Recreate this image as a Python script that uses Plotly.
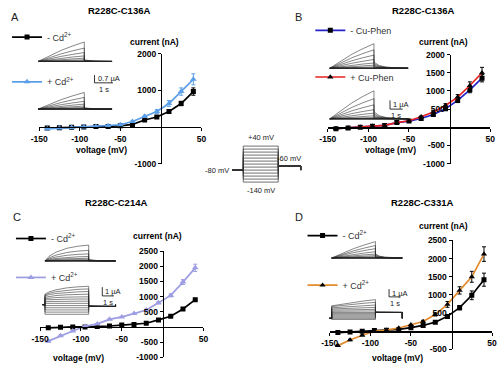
import plotly.graph_objects as go

W, H = 500, 370
FONT = "Liberation Sans"

# ---------------- data (I-V curves, nA) ----------------
V = [-140, -125, -110, -95, -80, -65, -50, -35, -20, -5, 10, 25, 40]

A_ctrl = [-30, -20, -10, 0, 10, 15, 30, 70, 190, 270, 420, 640, 965]
A_ctrl_err = [0, 0, 0, 0, 0, 0, 0, 0, 0, 20, 40, 60, 100]
A_cd = [-50, -30, -15, 0, 15, 30, 60, 150, 290, 420, 640, 965, 1300]
A_cd_err = [0, 0, 0, 0, 0, 0, 0, 20, 30, 50, 80, 100, 150]

B_ctrl = [-40, -20, 0, 30, 50, 130, 170, 240, 350, 510, 740, 1030, 1350]
B_ctrl_err = [0, 0, 0, 0, 0, 0, 0, 20, 30, 40, 60, 80, 100]
B_cu = [-40, -20, 0, 30, 50, 130, 180, 290, 420, 600, 830, 1150, 1500]
B_cu_err = [0, 0, 0, 0, 0, 0, 0, 20, 30, 50, 70, 100, 150]

C_ctrl = [-30, -10, 0, 0, 10, 30, 60, 80, 120, 230, 350, 590, 900]
C_ctrl_err = [0, 0, 0, 0, 0, 0, 0, 0, 0, 20, 20, 30, 40]
C_cd = [-470, -290, -135, 20, 100, 250, 330, 440, 560, 800, 1040, 1480, 1950]
C_cd_err = [30, 20, 20, 0, 0, 0, 0, 0, 20, 40, 50, 80, 120]

D_ctrl = [-35, -20, 0, 20, 30, 50, 100, 160, 250, 410, 650, 990, 1420]
D_ctrl_err = [0, 0, 0, 0, 0, 0, 0, 20, 30, 40, 60, 120, 180]
D_cd = [-395, -240, -110, 0, 30, 90, 180, 270, 460, 740, 1125, 1500, 2125]
D_cd_err = [20, 20, 0, 0, 0, 0, 0, 30, 40, 80, 100, 150, 200]

# ---------------- inset current traces (uA at end of pulse) ----------------
A1_amp = [0, 0, 0, 0, 0, 0.02, 0.06, 0.15, 0.3, 0.5, 0.8, 1.2, 1.75]
A2_amp = [0, 0, 0, 0, 0, 0.02, 0.06, 0.15, 0.28, 0.45, 0.7, 1.05, 1.5]
B1_amp = [0, 0, 0, 0, 0, 0.05, 0.15, 0.35, 0.6, 1.0, 1.5, 2.1, 2.8]
B2_amp = [0, 0, 0, 0, 0, 0.05, 0.15, 0.35, 0.65, 1.05, 1.6, 2.3, 3.2]
C1_amp = [0, 0, 0, 0, 0, 0.03, 0.08, 0.15, 0.3, 0.5, 0.8, 1.2, 1.8]
C2_amp = [0, 0, 0, 0, 0, 0, 0.05, 0.1, 0.2, 0.35, 0.5, 0.7, 0.9]
C2_inst = [-1.1, -0.85, -0.6, -0.35, -0.1, 0.15, 0.35, 0.55, 0.7, 0.85, 1.0, 1.1, 1.2]
D1_amp = [0, 0, 0, 0, 0, 0.05, 0.15, 0.3, 0.5, 0.8, 1.2, 1.6, 2.1]
D2_amp = [0, 0, 0, 0, 0, 0, 0.02, 0.05, 0.1, 0.2, 0.35, 0.55, 0.8]
D2_inst = [-0.15, 0, 0.15, 0.3, 0.45, 0.6, 0.75, 0.9, 1.05, 1.2, 1.35, 1.5, 1.6]
ZERO13 = [0, 0, 0, 0, 0, 0, 0, 0, 0, 0, 0, 0, 0]

SHAPE_T = [0, 0.1, 0.25, 0.5, 0.75, 1.0]
SHAPE_LIN = [0, 0.12, 0.3, 0.57, 0.8, 1.0]
SHAPE_SAT = [0, 0.3, 0.55, 0.8, 0.93, 1.0]
TAIL_T = [0, 0.15, 0.35, 0.6, 1.0]
TAIL_F = [1, 0.45, 0.2, 0.07, 0]

# protocol
HOLD, TAILV = -80, -60

# ---------------- helpers ----------------
fig = go.Figure()
layout = {}
annotations = []
count = [0]


def px2x(px):
    return px / W


def px2y(py):
    return 1 - py / H


def new_axes(xd, yd, xrange, yrange):
    count[0] += 1
    n = count[0]
    xn = 'xaxis' if n == 1 else f'xaxis{n}'
    yn = 'yaxis' if n == 1 else f'yaxis{n}'
    xr = 'x' if n == 1 else f'x{n}'
    yr = 'y' if n == 1 else f'y{n}'
    layout[xn] = dict(domain=[px2x(xd[0]), px2x(xd[1])], range=xrange,
                      visible=False, anchor=yr, fixedrange=True)
    layout[yn] = dict(domain=[px2y(yd[1]), px2y(yd[0])], range=yrange,
                      visible=False, anchor=xr, fixedrange=True)
    return xn, yn, xr, yr


TICKFONT = dict(family=FONT, size=8.5, color='black', weight='bold')


def paper_text(text, pos, font):
    annotations.append(dict(text=text, x=px2x(pos[0]), y=px2y(pos[1]),
                            xref='paper', yref='paper', xanchor='center', yanchor='middle',
                            showarrow=False, font=font))


def main_panel(g, series):
    xl, xrp, ytop, ybot, yr = g['xl'], g['xr'], g['ytop'], g['ybot'], g['yrange']
    xn, yn, xa, ya = new_axes((xl, xrp), (ytop, ybot), [-150, 50], yr)
    y0px = ytop + (yr[1] - 0) / (yr[1] - yr[0]) * (ybot - ytop)
    x0px = xl + 150 / 200 * (xrp - xl)
    common = dict(visible=True, showline=True, linecolor='black', linewidth=1.5,
                  ticks='outside', ticklen=3, tickwidth=1, tickcolor='black',
                  showgrid=False, zeroline=False, tickfont=TICKFONT, anchor='free')
    layout[xn].update(common, position=px2y(y0px), tickvals=[-150, -100, -50, 50],
                      ticktext=['-150', '-100', '-50', '50'])
    layout[yn].update(common, position=px2x(x0px), tickvals=g['yticks'],
                      ticktext=[str(v) for v in g['yticks']])
    for s in series:
        fig.add_trace(go.Scatter(
            x=V, y=s['y'], xaxis=xa, yaxis=ya, mode='lines+markers',
            line=dict(color=s['lc'], width=1.7),
            marker=dict(symbol=s['sym'], size=s['ms'], color=s['mc']),
            error_y=dict(type='data', array=s['err'], color=s['mc'], thickness=1, width=2),
            name=s['name'], legend=s['legend'], showlegend=True))
    bold = dict(family=FONT, size=8.5, color='black', weight='bold')
    paper_text('current (nA)', g['cur'], bold)
    paper_text('voltage (mV)', g['vol'], bold)
    paper_text(g['title'], g['tpos'], dict(family=FONT, size=9.5, color='black', weight='bold'))
    paper_text(g['letter'], g['lpos'], dict(family=FONT, size=11, color='#222'))


def family(g, base, amps, inst, shape, pre, tail0, tailfrac, scale=None):
    left, pps, ppu, pulse, tail = g['left'], g['pps'], g['ppu'], g['pulse'], g['tail']
    t0, t1 = -0.5, pulse + tail + 0.6
    u0, u1 = -2.0, 4.5
    xd = (left + t0 * pps, left + t1 * pps)
    yd = (base - u1 * ppu, base - u0 * ppu)
    xn, yn, xa, ya = new_axes(xd, yd, [t0, t1], [u0, u1])
    xs, ys = [], []
    for a, i0 in zip(amps, inst):
        if pre:
            xs += [-pre, 0]
            ys += [0, 0]
        for tf, ff in zip(SHAPE_T, shape):
            xs.append(tf * pulse)
            ys.append(i0 + a * ff)
        for tt, tv in zip(TAIL_T, TAIL_F):
            xs.append(pulse + tt * tail)
            ys.append(tail0 + tailfrac * a * tv)
        xs += [pulse + tail, None]
        ys += [0, None]
    fig.add_trace(go.Scatter(x=xs, y=ys, xaxis=xa, yaxis=ya, mode='lines',
                             line=dict(color='#222', width=0.55), showlegend=False,
                             hoverinfo='skip'))
    if scale:
        sxp, syp, vlen, vlabel = scale
        sx = (sxp - left) / pps
        sy = (base - syp) / ppu
        fig.add_trace(go.Scatter(x=[sx, sx, sx + 1], y=[sy + vlen, sy, sy], xaxis=xa, yaxis=ya,
                                 mode='lines', line=dict(color='black', width=0.8),
                                 showlegend=False, hoverinfo='skip'))
        annotations.append(dict(text=vlabel, x=sx + 0.1, y=sy + vlen * 0.5, xref=xa, yref=ya,
                                xanchor='left', yanchor='middle', showarrow=False,
                                font=dict(family=FONT, size=7.5, color='#222')))
        annotations.append(dict(text='1 s', x=sx + 0.5, y=sy, xref=xa, yref=ya,
                                xanchor='center', yanchor='top', showarrow=False,
                                font=dict(family=FONT, size=7.5, color='#222')))


# ---------------- panels ----------------
gA = dict(xl=31, xr=198, ytop=50, ybot=163, yrange=[-1000, 2000],
          yticks=[-1000, 1000, 2000], cur=(150, 38), vol=(95, 149),
          title='R228C-C136A', tpos=(113, 6), letter='A', lpos=(6, 12))
gB = dict(xl=328, xr=495, ytop=51, ybot=163, yrange=[-1000, 2000],
          yticks=[-1000, -500, 500, 1000, 1500, 2000], cur=(447, 38), vol=(393, 149),
          title='R228C-C136A', tpos=(426, 6), letter='B', lpos=(298, 12))
gC = dict(xl=32, xr=200, ytop=253, ybot=362, yrange=[-1000, 2500],
          yticks=[-1000, -500, 500, 1000, 1500, 2000, 2500], cur=(153, 237), vol=(72, 363),
          title='R228C-C214A', tpos=(110, 203), letter='C', lpos=(8, 218))
gD = dict(xl=330, xr=497, ytop=242, ybot=354, yrange=[-500, 2500],
          yticks=[-500, 500, 1000, 1500, 2000, 2500], cur=(447, 227), vol=(400, 363),
          title='R228C-C331A', tpos=(425, 203), letter='D', lpos=(298, 218))

CD = 'Cd<sup>2+</sup>'
main_panel(gA, [
    dict(y=A_ctrl, err=A_ctrl_err, lc='black', mc='black', sym='square', ms=5,
         name='- ' + CD, legend='legend'),
    dict(y=A_cd, err=A_cd_err, lc='#5b9fe8', mc='#5b9fe8', sym='triangle-up', ms=6,
         name='+ ' + CD, legend='legend2')])
main_panel(gB, [
    dict(y=B_ctrl, err=B_ctrl_err, lc='#2323c8', mc='black', sym='square', ms=5,
         name='- Cu-Phen', legend='legend3'),
    dict(y=B_cu, err=B_cu_err, lc='#e52222', mc='black', sym='triangle-up', ms=5.5,
         name='+ Cu-Phen', legend='legend4')])
main_panel(gC, [
    dict(y=C_ctrl, err=C_ctrl_err, lc='black', mc='black', sym='square', ms=5,
         name='- ' + CD, legend='legend5'),
    dict(y=C_cd, err=C_cd_err, lc='#9d9de3', mc='#9d9de3', sym='triangle-up', ms=6,
         name='+ ' + CD, legend='legend6')])
main_panel(gD, [
    dict(y=D_ctrl, err=D_ctrl_err, lc='black', mc='black', sym='square', ms=5,
         name='- ' + CD, legend='legend7'),
    dict(y=D_cd, err=D_cd_err, lc='#e38b2c', mc='black', sym='triangle-up', ms=5.5,
         name='+ ' + CD, legend='legend8')])

# insets
iA = dict(left=30, pps=19, ppu=11.4, pulse=2.5, tail=1.5)
family(iA, 58, A1_amp, ZERO13, SHAPE_LIN, 0, 0, 0.08)
family(iA, 107, A2_amp, ZERO13, SHAPE_LIN, 0, 0, 0.08, scale=(88, 80, 0.7, '0.7 µA'))
iB = dict(left=330, pps=13, ppu=9, pulse=3.5, tail=2.7)
family(iB, 65, B1_amp, ZERO13, SHAPE_LIN, 0, 0, 0.25)
family(iB, 117, B2_amp, ZERO13, SHAPE_LIN, 0, 0, 0.25, scale=(392, 107, 1, '1 µA'))
iC = dict(left=37, pps=12, ppu=9, pulse=3.75, tail=2.3)
family(iC, 263, C1_amp, ZERO13, SHAPE_SAT, 0, 0, 0.08)
family(iC, 308, C2_amp, C2_inst, SHAPE_SAT, 0.2, -0.2, 0.1, scale=(96, 299, 1, '1 µA'))
iD = dict(left=332, pps=12, ppu=8, pulse=3.75, tail=2.3)
family(iD, 260, D1_amp, ZERO13, SHAPE_LIN, 0, 0, 0.25)
family(iD, 322, D2_amp, D2_inst, SHAPE_LIN, 0.2, 0.75, 0.1, scale=(391, 300, 1, '1 µA'))

# voltage protocol
P_PULSE, P_TAIL_END, P_PRE = 3.5, 5.75, -1.1
pps_p = (277 - 241) / P_PULSE
ppm = (182 - 145) / 180.0
xn, yn, xa, ya = new_axes((241 + (-1.3) * pps_p, 241 + 6.2 * pps_p),
                          (145 - 15 * ppm, 182 + 15 * ppm), [-1.3, 6.2], [-155, 55])
px_, py_ = [], []
for v in V:
    px_ += [P_PRE, 0, 0, P_PULSE, P_PULSE, P_TAIL_END, P_TAIL_END, None]
    py_ += [HOLD, HOLD, v, v, TAILV, TAILV, HOLD, None]
fig.add_trace(go.Scatter(x=px_, y=py_, xaxis=xa, yaxis=ya, mode='lines',
                         line=dict(color='#333', width=0.7), showlegend=False, hoverinfo='skip'))
pf = dict(family=FONT, size=7.5, color='#222')
annotations += [
    dict(text='+40 mV', x=P_PULSE / 2, y=40, xref=xa, yref=ya, xanchor='center',
         yanchor='bottom', yshift=2, showarrow=False, font=pf),
    dict(text='-140 mV', x=P_PULSE / 2, y=-140, xref=xa, yref=ya, xanchor='center',
         yanchor='top', yshift=-2, showarrow=False, font=pf),
    dict(text='-80 mV', x=P_PRE, y=HOLD, xref=xa, yref=ya, xanchor='right', yanchor='middle',
         xshift=-1, showarrow=False, font=pf),
    dict(text='-60 mV', x=4.6, y=TAILV, xref=xa, yref=ya, xanchor='center', yanchor='bottom',
         yshift=1, showarrow=False, font=pf),
]

# legends (one per series)
LEG_POS = {
    'legend': (-2, 33), 'legend2': (-2, 79),
    'legend3': (310, 26), 'legend4': (310, 74),
    'legend5': (2, 240), 'legend6': (2, 280),
    'legend7': (302, 237), 'legend8': (302, 288),
}
for k, (lx, ly) in LEG_POS.items():
    layout[k] = dict(x=px2x(lx), y=px2y(ly), xanchor='left', yanchor='middle',
                     bgcolor='rgba(0,0,0,0)', borderwidth=0, itemwidth=30,
                     font=dict(family=FONT, size=9, color='#333'))

fig.update_layout(**layout)
fig.update_layout(width=W, height=H, autosize=False, margin=dict(l=0, r=0, t=0, b=0),
                  paper_bgcolor='white', plot_bgcolor='rgba(0,0,0,0)',
                  annotations=annotations, hovermode=False,
                  font=dict(family=FONT, color='black'))
fig.write_html("out.html", config={'displayModeBar': False, 'staticPlot': True},
               post_script="document.body.style.margin='0';")
